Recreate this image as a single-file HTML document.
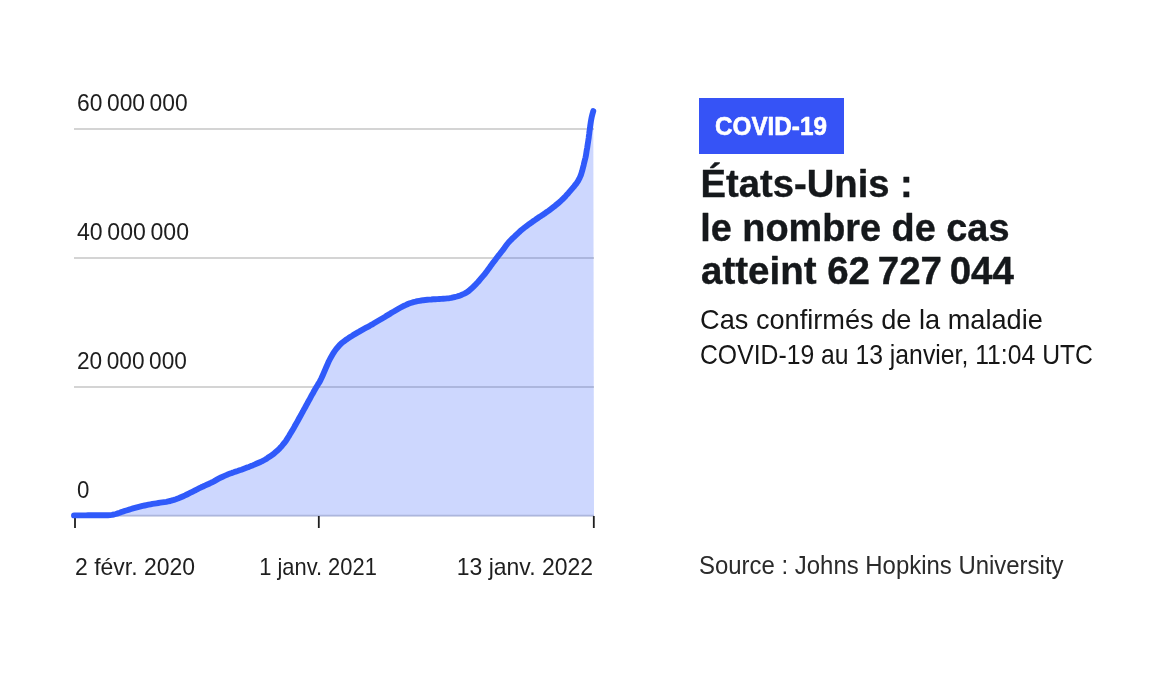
<!DOCTYPE html>
<html lang="fr"><head><meta charset="utf-8"><title>COVID-19 États-Unis</title>
<style>
html,body{margin:0;padding:0;background:#fff;}
body{width:1164px;height:683px;overflow:hidden;}
svg{display:block;will-change:transform;font-family:"Liberation Sans",sans-serif;}
</style></head><body>
<svg width="1164" height="683" viewBox="0 0 1164 683">
<rect width="1164" height="683" fill="#fff"/>
<g stroke="#d4d4d4" stroke-width="2">
<line x1="74" y1="129" x2="594" y2="129"/>
<line x1="74" y1="258" x2="594" y2="258"/>
<line x1="74" y1="387" x2="594" y2="387"/>
<line x1="74" y1="515.6" x2="594" y2="515.6" stroke-width="1.6"/>
</g>
<path d="M74.0,515.4 L76.0,515.4 L78.0,515.4 L80.0,515.4 L82.0,515.4 L84.0,515.4 L86.0,515.4 L88.0,515.3 L90.0,515.3 L92.0,515.3 L94.0,515.3 L96.0,515.3 L98.0,515.3 L100.0,515.3 L102.0,515.3 L104.0,515.3 L106.0,515.3 L108.0,515.2 L110.0,515.1 L112.0,514.9 L113.9,514.5 L115.9,514.0 L117.8,513.4 L119.7,512.8 L121.5,512.1 L123.4,511.4 L125.3,510.8 L127.2,510.2 L129.1,509.6 L131.1,509.0 L133.0,508.4 L134.9,507.9 L136.8,507.4 L138.8,506.9 L140.7,506.4 L142.6,505.9 L144.6,505.5 L146.5,505.1 L148.5,504.7 L150.5,504.3 L152.4,503.9 L154.4,503.6 L156.4,503.3 L158.4,503.0 L160.3,502.7 L162.3,502.4 L164.3,502.1 L166.3,501.8 L168.2,501.4 L170.2,501.0 L172.1,500.4 L174.0,499.9 L175.9,499.3 L177.8,498.6 L179.7,497.8 L181.5,497.0 L183.3,496.2 L185.1,495.4 L186.9,494.5 L188.7,493.6 L190.5,492.7 L192.3,491.8 L194.1,490.9 L195.9,490.0 L197.6,489.1 L199.4,488.2 L201.2,487.3 L203.0,486.5 L204.8,485.6 L206.7,484.8 L208.5,484.0 L210.3,483.1 L212.1,482.3 L213.9,481.4 L215.6,480.4 L217.3,479.4 L219.1,478.4 L220.9,477.5 L222.7,476.7 L224.5,475.9 L226.3,475.1 L228.2,474.3 L230.1,473.6 L232.0,472.9 L233.8,472.3 L235.7,471.6 L237.6,471.0 L239.5,470.3 L241.4,469.7 L243.3,469.0 L245.2,468.3 L247.0,467.6 L248.9,466.9 L250.8,466.1 L252.6,465.4 L254.5,464.6 L256.3,463.8 L258.1,463.0 L259.9,462.2 L261.8,461.4 L263.5,460.5 L265.3,459.5 L267.0,458.4 L268.6,457.3 L270.3,456.2 L272.0,455.1 L273.6,453.9 L275.1,452.6 L276.6,451.3 L278.1,450.0 L279.5,448.6 L280.9,447.1 L282.2,445.6 L283.4,444.0 L284.7,442.5 L285.9,440.9 L287.0,439.2 L288.0,437.5 L289.1,435.8 L290.1,434.1 L291.1,432.4 L292.2,430.7 L293.2,428.9 L294.2,427.2 L295.1,425.5 L296.1,423.7 L297.1,422.0 L298.1,420.2 L299.0,418.5 L300.0,416.7 L301.0,415.0 L301.9,413.2 L302.9,411.5 L303.8,409.7 L304.8,408.0 L305.8,406.2 L306.7,404.4 L307.7,402.7 L308.6,400.9 L309.6,399.2 L310.6,397.4 L311.5,395.7 L312.5,393.9 L313.5,392.2 L314.4,390.4 L315.4,388.7 L316.4,387.0 L317.5,385.3 L318.5,383.6 L319.6,381.9 L320.5,380.1 L321.4,378.3 L322.2,376.5 L323.0,374.7 L323.8,372.8 L324.6,371.0 L325.4,369.1 L326.2,367.3 L327.0,365.5 L327.8,363.6 L328.6,361.8 L329.5,360.0 L330.4,358.2 L331.4,356.5 L332.4,354.8 L333.4,353.1 L334.5,351.4 L335.6,349.8 L336.9,348.2 L338.2,346.7 L339.5,345.2 L340.9,343.8 L342.4,342.5 L344.0,341.3 L345.6,340.1 L347.3,339.0 L348.9,337.8 L350.6,336.7 L352.3,335.7 L354.0,334.6 L355.7,333.6 L357.4,332.6 L359.2,331.6 L360.9,330.6 L362.7,329.6 L364.4,328.7 L366.2,327.7 L367.9,326.8 L369.7,325.8 L371.4,324.8 L373.2,323.8 L374.9,322.8 L376.6,321.8 L378.3,320.8 L380.0,319.8 L381.8,318.7 L383.5,317.7 L385.2,316.7 L386.9,315.6 L388.6,314.6 L390.3,313.6 L392.0,312.5 L393.8,311.5 L395.5,310.5 L397.2,309.5 L398.9,308.5 L400.7,307.5 L402.4,306.6 L404.2,305.7 L406.1,304.9 L407.9,304.0 L409.7,303.3 L411.6,302.7 L413.5,302.1 L415.5,301.7 L417.4,301.2 L419.4,300.8 L421.4,300.5 L423.3,300.2 L425.3,300.0 L427.3,299.8 L429.3,299.6 L431.3,299.5 L433.3,299.3 L435.3,299.2 L437.3,299.1 L439.3,299.0 L441.3,298.9 L443.3,298.7 L445.3,298.6 L447.3,298.4 L449.2,298.2 L451.2,297.9 L453.2,297.4 L455.1,297.0 L457.0,296.5 L458.9,295.9 L460.8,295.2 L462.6,294.4 L464.5,293.6 L466.2,292.7 L467.9,291.6 L469.4,290.4 L470.9,289.0 L472.4,287.7 L473.8,286.3 L475.2,284.9 L476.6,283.4 L478.0,282.0 L479.3,280.5 L480.6,278.9 L481.9,277.4 L483.2,275.9 L484.5,274.4 L485.7,272.8 L486.9,271.2 L488.1,269.6 L489.3,268.0 L490.4,266.3 L491.6,264.7 L492.8,263.1 L494.0,261.5 L495.2,259.9 L496.4,258.3 L497.6,256.7 L498.8,255.1 L500.1,253.6 L501.3,252.0 L502.6,250.4 L503.8,248.8 L504.9,247.2 L506.1,245.6 L507.3,244.0 L508.5,242.5 L509.9,241.0 L511.3,239.6 L512.7,238.2 L514.2,236.8 L515.6,235.4 L517.1,234.1 L518.6,232.7 L520.0,231.3 L521.5,230.0 L523.1,228.7 L524.6,227.5 L526.2,226.3 L527.8,225.1 L529.4,223.9 L531.1,222.8 L532.7,221.6 L534.4,220.5 L536.0,219.3 L537.6,218.2 L539.3,217.0 L541.0,216.0 L542.6,214.9 L544.3,213.8 L545.9,212.6 L547.6,211.5 L549.2,210.3 L550.8,209.1 L552.4,207.9 L554.0,206.7 L555.5,205.4 L557.1,204.1 L558.6,202.9 L560.1,201.6 L561.6,200.2 L563.0,198.8 L564.4,197.4 L565.8,195.9 L567.1,194.4 L568.5,192.9 L569.8,191.4 L571.1,189.9 L572.4,188.4 L573.7,186.9 L574.9,185.3 L576.2,183.8 L577.3,182.2 L578.4,180.4 L579.3,178.7 L580.1,176.9 L580.9,175.0 L581.5,173.1 L582.1,171.2 L582.6,169.3 L583.1,167.3 L583.6,165.4 L584.0,163.5 L584.5,161.5 L585.0,159.6 L585.5,157.6 L585.9,155.7 L586.2,153.7 L586.5,151.7 L586.8,149.8 L587.2,147.8 L587.5,145.8 L587.8,143.8 L588.1,141.9 L588.4,139.9 L588.7,137.9 L588.9,135.9 L589.2,133.9 L589.4,131.9 L589.7,130.0 L590.0,128.0 L590.2,126.0 L590.5,124.0 L590.8,122.0 L591.1,120.1 L591.5,118.1 L591.9,116.2 L592.4,114.3 L592.9,112.5 L593.3,111.0 L593.3,111.0 L594,516.4 L74,516.4 Z" fill="rgba(48,90,250,0.245)"/>
<g stroke="#1e1e1e" stroke-width="1.8">
<line x1="75" y1="516" x2="75" y2="528"/>
<line x1="318.8" y1="516" x2="318.8" y2="528"/>
<line x1="593.8" y1="516" x2="593.8" y2="528"/>
</g>
<path d="M74.0,515.4 L76.0,515.4 L78.0,515.4 L80.0,515.4 L82.0,515.4 L84.0,515.4 L86.0,515.4 L88.0,515.3 L90.0,515.3 L92.0,515.3 L94.0,515.3 L96.0,515.3 L98.0,515.3 L100.0,515.3 L102.0,515.3 L104.0,515.3 L106.0,515.3 L108.0,515.2 L110.0,515.1 L112.0,514.9 L113.9,514.5 L115.9,514.0 L117.8,513.4 L119.7,512.8 L121.5,512.1 L123.4,511.4 L125.3,510.8 L127.2,510.2 L129.1,509.6 L131.1,509.0 L133.0,508.4 L134.9,507.9 L136.8,507.4 L138.8,506.9 L140.7,506.4 L142.6,505.9 L144.6,505.5 L146.5,505.1 L148.5,504.7 L150.5,504.3 L152.4,503.9 L154.4,503.6 L156.4,503.3 L158.4,503.0 L160.3,502.7 L162.3,502.4 L164.3,502.1 L166.3,501.8 L168.2,501.4 L170.2,501.0 L172.1,500.4 L174.0,499.9 L175.9,499.3 L177.8,498.6 L179.7,497.8 L181.5,497.0 L183.3,496.2 L185.1,495.4 L186.9,494.5 L188.7,493.6 L190.5,492.7 L192.3,491.8 L194.1,490.9 L195.9,490.0 L197.6,489.1 L199.4,488.2 L201.2,487.3 L203.0,486.5 L204.8,485.6 L206.7,484.8 L208.5,484.0 L210.3,483.1 L212.1,482.3 L213.9,481.4 L215.6,480.4 L217.3,479.4 L219.1,478.4 L220.9,477.5 L222.7,476.7 L224.5,475.9 L226.3,475.1 L228.2,474.3 L230.1,473.6 L232.0,472.9 L233.8,472.3 L235.7,471.6 L237.6,471.0 L239.5,470.3 L241.4,469.7 L243.3,469.0 L245.2,468.3 L247.0,467.6 L248.9,466.9 L250.8,466.1 L252.6,465.4 L254.5,464.6 L256.3,463.8 L258.1,463.0 L259.9,462.2 L261.8,461.4 L263.5,460.5 L265.3,459.5 L267.0,458.4 L268.6,457.3 L270.3,456.2 L272.0,455.1 L273.6,453.9 L275.1,452.6 L276.6,451.3 L278.1,450.0 L279.5,448.6 L280.9,447.1 L282.2,445.6 L283.4,444.0 L284.7,442.5 L285.9,440.9 L287.0,439.2 L288.0,437.5 L289.1,435.8 L290.1,434.1 L291.1,432.4 L292.2,430.7 L293.2,428.9 L294.2,427.2 L295.1,425.5 L296.1,423.7 L297.1,422.0 L298.1,420.2 L299.0,418.5 L300.0,416.7 L301.0,415.0 L301.9,413.2 L302.9,411.5 L303.8,409.7 L304.8,408.0 L305.8,406.2 L306.7,404.4 L307.7,402.7 L308.6,400.9 L309.6,399.2 L310.6,397.4 L311.5,395.7 L312.5,393.9 L313.5,392.2 L314.4,390.4 L315.4,388.7 L316.4,387.0 L317.5,385.3 L318.5,383.6 L319.6,381.9 L320.5,380.1 L321.4,378.3 L322.2,376.5 L323.0,374.7 L323.8,372.8 L324.6,371.0 L325.4,369.1 L326.2,367.3 L327.0,365.5 L327.8,363.6 L328.6,361.8 L329.5,360.0 L330.4,358.2 L331.4,356.5 L332.4,354.8 L333.4,353.1 L334.5,351.4 L335.6,349.8 L336.9,348.2 L338.2,346.7 L339.5,345.2 L340.9,343.8 L342.4,342.5 L344.0,341.3 L345.6,340.1 L347.3,339.0 L348.9,337.8 L350.6,336.7 L352.3,335.7 L354.0,334.6 L355.7,333.6 L357.4,332.6 L359.2,331.6 L360.9,330.6 L362.7,329.6 L364.4,328.7 L366.2,327.7 L367.9,326.8 L369.7,325.8 L371.4,324.8 L373.2,323.8 L374.9,322.8 L376.6,321.8 L378.3,320.8 L380.0,319.8 L381.8,318.7 L383.5,317.7 L385.2,316.7 L386.9,315.6 L388.6,314.6 L390.3,313.6 L392.0,312.5 L393.8,311.5 L395.5,310.5 L397.2,309.5 L398.9,308.5 L400.7,307.5 L402.4,306.6 L404.2,305.7 L406.1,304.9 L407.9,304.0 L409.7,303.3 L411.6,302.7 L413.5,302.1 L415.5,301.7 L417.4,301.2 L419.4,300.8 L421.4,300.5 L423.3,300.2 L425.3,300.0 L427.3,299.8 L429.3,299.6 L431.3,299.5 L433.3,299.3 L435.3,299.2 L437.3,299.1 L439.3,299.0 L441.3,298.9 L443.3,298.7 L445.3,298.6 L447.3,298.4 L449.2,298.2 L451.2,297.9 L453.2,297.4 L455.1,297.0 L457.0,296.5 L458.9,295.9 L460.8,295.2 L462.6,294.4 L464.5,293.6 L466.2,292.7 L467.9,291.6 L469.4,290.4 L470.9,289.0 L472.4,287.7 L473.8,286.3 L475.2,284.9 L476.6,283.4 L478.0,282.0 L479.3,280.5 L480.6,278.9 L481.9,277.4 L483.2,275.9 L484.5,274.4 L485.7,272.8 L486.9,271.2 L488.1,269.6 L489.3,268.0 L490.4,266.3 L491.6,264.7 L492.8,263.1 L494.0,261.5 L495.2,259.9 L496.4,258.3 L497.6,256.7 L498.8,255.1 L500.1,253.6 L501.3,252.0 L502.6,250.4 L503.8,248.8 L504.9,247.2 L506.1,245.6 L507.3,244.0 L508.5,242.5 L509.9,241.0 L511.3,239.6 L512.7,238.2 L514.2,236.8 L515.6,235.4 L517.1,234.1 L518.6,232.7 L520.0,231.3 L521.5,230.0 L523.1,228.7 L524.6,227.5 L526.2,226.3 L527.8,225.1 L529.4,223.9 L531.1,222.8 L532.7,221.6 L534.4,220.5 L536.0,219.3 L537.6,218.2 L539.3,217.0 L541.0,216.0 L542.6,214.9 L544.3,213.8 L545.9,212.6 L547.6,211.5 L549.2,210.3 L550.8,209.1 L552.4,207.9 L554.0,206.7 L555.5,205.4 L557.1,204.1 L558.6,202.9 L560.1,201.6 L561.6,200.2 L563.0,198.8 L564.4,197.4 L565.8,195.9 L567.1,194.4 L568.5,192.9 L569.8,191.4 L571.1,189.9 L572.4,188.4 L573.7,186.9 L574.9,185.3 L576.2,183.8 L577.3,182.2 L578.4,180.4 L579.3,178.7 L580.1,176.9 L580.9,175.0 L581.5,173.1 L582.1,171.2 L582.6,169.3 L583.1,167.3 L583.6,165.4 L584.0,163.5 L584.5,161.5 L585.0,159.6 L585.5,157.6 L585.9,155.7 L586.2,153.7 L586.5,151.7 L586.8,149.8 L587.2,147.8 L587.5,145.8 L587.8,143.8 L588.1,141.9 L588.4,139.9 L588.7,137.9 L588.9,135.9 L589.2,133.9 L589.4,131.9 L589.7,130.0 L590.0,128.0 L590.2,126.0 L590.5,124.0 L590.8,122.0 L591.1,120.1 L591.5,118.1 L591.9,116.2 L592.4,114.3 L592.9,112.5 L593.3,111.0 L593.3,111.0" fill="none" stroke="#305afa" stroke-width="5.9" stroke-linecap="round" stroke-linejoin="round"/>
<rect x="699" y="98" width="145" height="56" fill="#3653f6"/>
<text x="77" y="110.8" font-size="24" textLength="110.68" lengthAdjust="spacingAndGlyphs" fill="#1e1e1e">60 000 000</text>
<text x="77" y="239.6" font-size="24" textLength="112.0" lengthAdjust="spacingAndGlyphs" fill="#1e1e1e">40 000 000</text>
<text x="77" y="368.7" font-size="24" textLength="109.86" lengthAdjust="spacingAndGlyphs" fill="#1e1e1e">20 000 000</text>
<text x="77" y="497.9" font-size="24" textLength="12.39" lengthAdjust="spacingAndGlyphs" fill="#1e1e1e">0</text>
<text x="75" y="575" font-size="24" textLength="120.03" lengthAdjust="spacingAndGlyphs" fill="#1e1e1e">2 févr. 2020</text>
<text x="318" y="575" font-size="24" text-anchor="middle" textLength="117.7" lengthAdjust="spacingAndGlyphs" fill="#1e1e1e">1 janv. 2021</text>
<text x="593" y="575" font-size="24" text-anchor="end" textLength="136.2" lengthAdjust="spacingAndGlyphs" fill="#1e1e1e">13 janv. 2022</text>
<text x="715" y="135.4" font-size="25" font-weight="bold" textLength="111.9" lengthAdjust="spacingAndGlyphs" fill="#fff" stroke="#fff" stroke-width="0.6" stroke-linejoin="round">COVID-19</text>
<text x="700.55" y="196.8" font-size="38.5" font-weight="bold" textLength="212.3" lengthAdjust="spacingAndGlyphs" fill="#15181b" stroke="#15181b" stroke-width="0.4" stroke-linejoin="round">États-Unis :</text>
<text x="700.2" y="240.9" font-size="38.5" font-weight="bold" textLength="309.3" lengthAdjust="spacingAndGlyphs" fill="#15181b" stroke="#15181b" stroke-width="0.4" stroke-linejoin="round">le nombre de cas</text>
<text x="701" y="284.1" font-size="38.5" font-weight="bold" fill="#15181b" stroke="#15181b" stroke-width="0.4" stroke-linejoin="round">atteint 62 727 044</text>
<text x="700" y="328.6" font-size="27.4" textLength="342.9" lengthAdjust="spacingAndGlyphs" fill="#161616">Cas confirmés de la maladie</text>
<text x="700" y="364.3" font-size="27.4" textLength="393.0" lengthAdjust="spacingAndGlyphs" fill="#161616">COVID-19 au 13 janvier, 11:04 UTC</text>
<text x="699" y="574" font-size="25" textLength="364.5" lengthAdjust="spacingAndGlyphs" fill="#2b2b2b">Source : Johns Hopkins University</text>
</svg>
</body></html>
